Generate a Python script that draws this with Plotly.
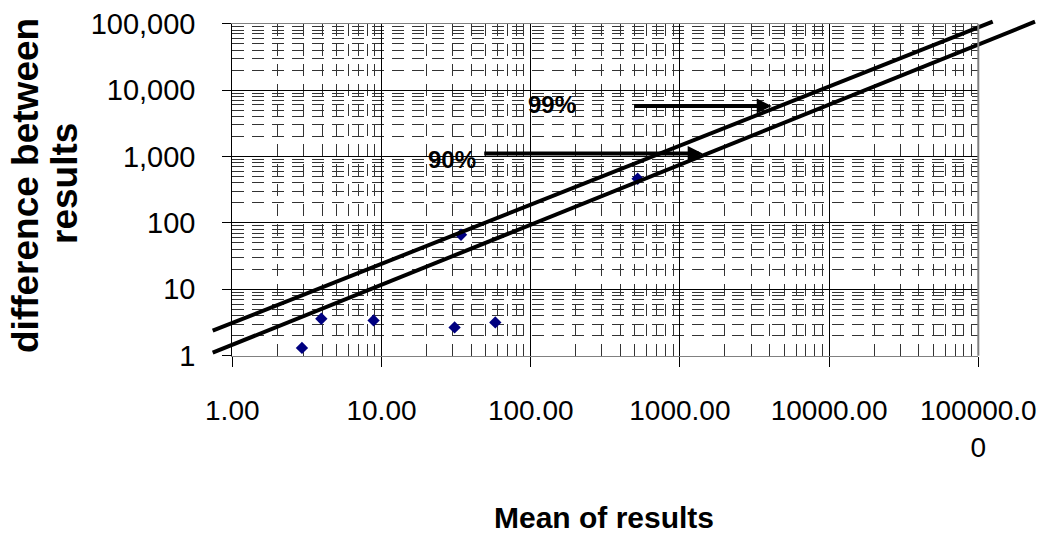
import numpy as np
import plotly.graph_objects as go

# ---- data ----
mean_vals = [2.93, 3.95, 8.85, 30.9, 34.1, 57.9, 521]
diff_vals = [1.31, 3.6, 3.40, 2.67, 66.4, 3.17, 463]

# limit lines (end points)
line99_x = [0.739, 124900]
line99_y = [2.38, 107200]
line90_x = [0.739, 239900]
line90_y = [1.11, 107200]

# arrows: (tail x, head x, y)
arrow99 = [482.7, 4125, 5760]
arrow90 = [47.7, 1422, 1109]
label99 = ["99%", 138.9, 5970]
label90 = ["90%", 29.5, 886]

x_tickvals = [1, 10, 100, 1000, 10000, 100000]
x_ticktext = ["1.00", "10.00", "100.00", "1000.00", "10000.00", "100000.0<br>0"]
y_tickvals = [1, 10, 100, 1000, 10000, 100000]
y_ticktext = ["1", "10", "100", "1,000", "10,000", "100,000"]

W, H = 1048, 539
# plot area (pixels)
PL, PR, PT, PB = 232.3, 978.3, 23.7, 355.7
xdom = [PL / W, PR / W]
ydom = [1 - PB / H, 1 - PT / H]

# overlay axes covering the whole figure with the same scale
xr_main = [0, 5]
yr_main = [0, 5]
xdec = (xr_main[1] - xr_main[0]) / (xdom[1] - xdom[0])
ydec = (yr_main[1] - yr_main[0]) / (ydom[1] - ydom[0])
xr2 = [xr_main[0] - xdom[0] * xdec, xr_main[1] + (1 - xdom[1]) * xdec]
yr2 = [yr_main[0] - ydom[0] * ydec, yr_main[1] + (1 - ydom[1]) * ydec]

FONT = "Liberation Sans, Arial, sans-serif"

fig = go.Figure()
fig.add_trace(go.Scatter(
    x=mean_vals, y=diff_vals, mode="markers",
    marker=dict(symbol="diamond", size=9.5, color="#000080"),
    xaxis="x", yaxis="y", showlegend=False, cliponaxis=False))

for lx, ly in [(line99_x, line99_y), (line90_x, line90_y)]:
    fig.add_trace(go.Scatter(
        x=lx, y=ly, mode="lines", line=dict(color="black", width=4),
        xaxis="x2", yaxis="y2", showlegend=False, hoverinfo="skip"))

minor_grid = dict(showgrid=True, gridcolor="#333333", griddash="12px,8px",
                  gridwidth=1, dtick="D1", ticks="")

fig.update_layout(
    width=W, height=H, margin=dict(l=0, r=0, t=0, b=0),
    paper_bgcolor="white", plot_bgcolor="rgba(0,0,0,0)",
    template="none", showlegend=False,
    xaxis=dict(type="log", domain=xdom, range=xr_main, anchor="y",
               tickvals=x_tickvals, ticktext=x_ticktext,
               tickfont=dict(family=FONT, size=28, color="black"),
               ticks="outside", ticklen=10, tickcolor="black", tickwidth=1,
               ticklabelstandoff=20, ticklabeloverflow="allow",
               showgrid=True, gridcolor="black", gridwidth=1,
               minor=minor_grid,
               showline=True, linecolor="#808080", linewidth=1, mirror=True,
               zeroline=False, automargin=False),
    yaxis=dict(type="log", domain=ydom, range=yr_main, anchor="x",
               tickvals=y_tickvals, ticktext=y_ticktext,
               tickfont=dict(family=FONT, size=29, color="black"),
               ticks="outside", ticklen=9, tickcolor="black", tickwidth=1,
               ticklabelstandoff=21, ticklabeloverflow="allow",
               showgrid=True, gridcolor="black", gridwidth=1,
               minor=minor_grid,
               showline=True, linecolor="black", linewidth=1,
               zeroline=False, automargin=False),
    xaxis2=dict(type="log", domain=[0, 1], range=xr2, anchor="y2",
                visible=False, showgrid=False, automargin=False),
    yaxis2=dict(type="log", domain=[0, 1], range=yr2, anchor="x2",
                visible=False, showgrid=False, automargin=False),
)

# right border of the plot area
fig.add_shape(type="line", xref="x domain", yref="y domain",
              x0=1, x1=1, y0=0, y1=1, line=dict(color="#808080", width=2))

# arrows
for tail, head, yv in [arrow99, arrow90]:
    fig.add_annotation(x=np.log10(head), y=np.log10(yv), ax=np.log10(tail), ay=np.log10(yv),
                       xref="x", yref="y", axref="x", ayref="y",
                       showarrow=True, arrowhead=2, arrowsize=0.75, arrowwidth=4,
                       arrowcolor="black", text="", standoff=0)

for txt, xv, yv in [label99, label90]:
    fig.add_annotation(x=np.log10(xv), y=np.log10(yv), xref="x", yref="y",
                       text="<b>%s</b>" % txt, showarrow=False,
                       font=dict(family=FONT, size=24, color="black"),
                       xanchor="center", yanchor="middle")

# axis titles
fig.add_annotation(x=604 / W, y=1 - 517 / H, xref="paper", yref="paper",
                   text="<b>Mean of results</b>", showarrow=False,
                   font=dict(family=FONT, size=30, color="black"),
                   xanchor="center", yanchor="middle")
fig.add_annotation(x=25 / W, y=1 - 186 / H, xref="paper", yref="paper",
                   text="<b>difference between</b>", showarrow=False, textangle=-90,
                   font=dict(family=FONT, size=37, color="black"),
                   xanchor="center", yanchor="middle")
fig.add_annotation(x=65 / W, y=1 - 184 / H, xref="paper", yref="paper",
                   text="<b>results</b>", showarrow=False, textangle=-90,
                   font=dict(family=FONT, size=37, color="black"),
                   xanchor="center", yanchor="middle")

fig.write_html("out.html", config={"displayModeBar": False},
               post_script="document.body.style.margin='0';document.body.style.overflow='hidden';")
